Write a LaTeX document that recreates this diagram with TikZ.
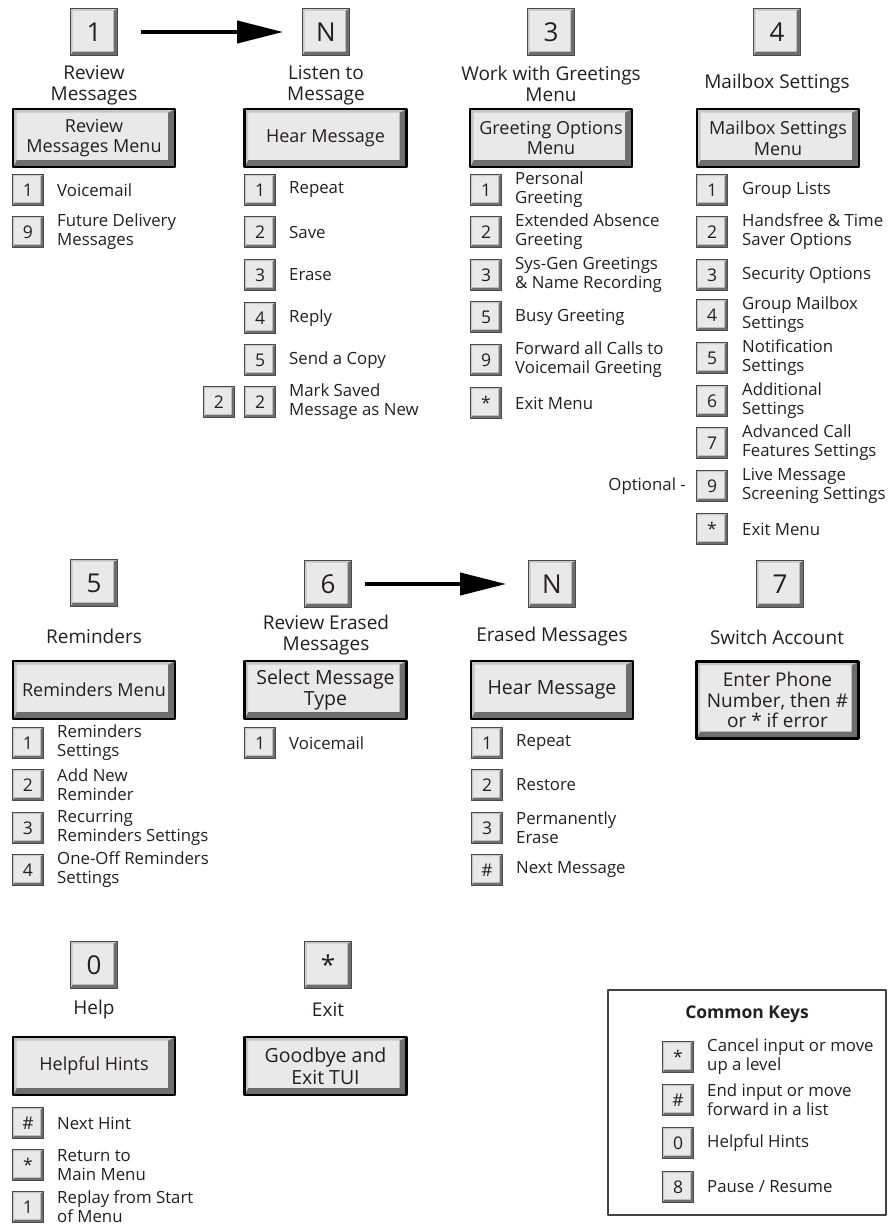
\documentclass[tikz,border=0pt]{standalone}
\usepackage{fontspec}
\setmainfont{Open Sans}
\usetikzlibrary{arrows.meta}
\definecolor{ink}{HTML}{231F20}
\definecolor{keyface}{HTML}{E9E9E9}
\definecolor{bevdark}{HTML}{6E6E6E}
\definecolor{bevlight}{HTML}{C6C6C6}
\definecolor{keyline}{HTML}{4A4A4A}

\tikzset{
  bevel/.style={path picture={
      \fill[bevdark] (path picture bounding box.south west) -- (path picture bounding box.south east)
        -- (path picture bounding box.north east) -- ([shift={(-#1,-0.5*#1)}]path picture bounding box.north east)
        -- ([shift={(-#1,#1)}]path picture bounding box.south east) -- ([shift={(0.5*#1,#1)}]path picture bounding box.south west) -- cycle;
      \fill[bevlight] (path picture bounding box.south west) -- (path picture bounding box.north west)
        -- (path picture bounding box.north east) -- ([shift={(-#1,-0.5*#1)}]path picture bounding box.north east)
        -- ([shift={(0.5*#1,-0.5*#1)}]path picture bounding box.north west) -- ([shift={(0.5*#1,#1)}]path picture bounding box.south west) -- cycle;
    }},
  bigkey/.style={rectangle, draw=keyline, line width=0.8pt, fill=keyface, bevel=4pt,
    minimum width=47pt, minimum height=47pt, inner sep=0pt, font=\fontsize{26}{28}\selectfont},
  smallkey/.style={rectangle, draw=keyline, line width=0.7pt, fill=keyface, bevel=3pt,
    minimum width=31pt, minimum height=31pt, inner sep=0pt, font=\fontsize{17.5}{19}\selectfont},
  menubox/.style={rectangle, draw=black, line width=2.2pt, fill=keyface, bevel=7pt,
    minimum width=162pt, minimum height=58pt, align=center, inner sep=0pt, font=\fontsize{18}{20.5}\selectfont},
  lbl/.style={align=center, inner sep=0pt, font=\fontsize{19}{21}\selectfont},
  item/.style={anchor=west, align=left, inner sep=0pt, font=\fontsize{16.8}{19}\selectfont},
}

\begin{document}
\begin{tikzpicture}[x=1pt,y=-1pt,line cap=round,line join=round,every node/.style={text=ink},
    >={Triangle[length=46pt,width=22pt]}]
  \useasboundingbox (0,0) rectangle (890,1226);

  % top row: main keys
  \node[bigkey] (k1) at (94,32) {1};
  \node[bigkey] (kN) at (326,32) {N};
  \node[bigkey] (k3) at (551,32) {3};
  \node[bigkey] (k4) at (777,32) {4};
  \draw[->,line width=4pt,line cap=butt,shorten <=23pt,shorten >=19pt] (k1) -- (kN);

  \node[lbl] (l1) at (94,85) {Review\\Messages};
  \node[lbl] (lN) at (326,85) {Listen to\\Message};
  \node[lbl] (l3) at (551,84) {Work with Greetings\\Menu};
  \node[lbl] (l4) at (777,84) {Mailbox Settings};

  \node[menubox] (m1) at (94,138) {Review\\Messages Menu};
  \node[menubox] (mN) at (325.5,138) {Hear Message};
  \node[menubox] (m3) at (551,138) {Greeting Options\\Menu};
  \node[menubox] (m4) at (778,138) {Mailbox Settings\\Menu};

  % review messages
  \foreach \k/\t/\y [count=\i] in {1/Voicemail/190, 9/{Future Delivery\\Messages}/232} {
    \node[smallkey] (rk\i) at (28,\y) {\k};
    \node[item] (rt\i) at (57,\y) {\t};
  }

  % hear message
  \foreach \k/\t/\y [count=\i] in {1/Repeat/190, 2/Save/232, 3/Erase/275, 4/Reply/318,
      5/Send a Copy/360, 2/{Mark Saved\\Message as New}/402} {
    \node[smallkey] (hk\i) at (260,\y) {\k};
    \node[item] (ht\i) at (289,\y) {\t};
  }
  \node[smallkey] (hk0) at (219,402) {2};

  % greeting options
  \foreach \k/\t/\y [count=\i] in {1/{Personal\\Greeting}/190, 2/{Extended Absence\\Greeting}/232,
      3/{Sys-Gen Greetings\\\& Name Recording}/275, 5/Busy Greeting/317,
      9/{Forward all Calls to\\Voicemail Greeting}/360, */Exit Menu/403} {
    \node[smallkey] (gk\i) at (486,\y) {\k};
    \node[item] (gt\i) at (515,\y) {\t};
  }

  % mailbox settings
  \foreach \k/\t/\y [count=\i] in {1/Group Lists/190, 2/{Handsfree \& Time\\Saver Options}/232,
      3/Security Options/275, 4/{Group Mailbox\\Settings}/315, 5/{Notification\\Settings}/358,
      6/{Additional\\Settings}/401, 7/{Advanced Call\\Features Settings}/443,
      9/{Live Message\\Screening Settings}/486, */Exit Menu/529} {
    \node[smallkey] (sk\i) at (712,\y) {\k};
    \node[item] (st\i) at (742,\y) {\t};
  }
  \node[item,anchor=east] (opt) at (686,486) {Optional -};

  % second row
  \node[bigkey] (k5) at (94,583) {5};
  \node[bigkey] (k6) at (328,584) {6};
  \node[bigkey] (kE) at (552,584) {N};
  \node[bigkey] (k7) at (780,584) {7};
  \draw[->,line width=4pt,line cap=butt,shorten <=13pt,shorten >=22pt] (k6) -- (kE);

  \node[lbl] (l5) at (94,636) {Reminders};
  \node[lbl] (l6) at (326,635) {Review Erased\\Messages};
  \node[lbl] (lE) at (552,637) {Erased Messages};
  \node[lbl] (l7) at (777,637) {Switch Account};

  \node[menubox] (m5) at (94,690) {Reminders Menu};
  \node[menubox,font=\fontsize{19.5}{21.5}\selectfont] (m6) at (325.5,690) {Select Message\\Type};
  \node[menubox,font=\fontsize{19.5}{21.5}\selectfont] (mE) at (552,690) {Hear Message};
  \node[menubox,minimum height=77pt,font=\fontsize{19}{20.5}\selectfont] (m7) at (777.5,700)
    {Enter Phone\\Number, then \#\\or * if error};

  % reminders
  \foreach \k/\t/\y [count=\i] in {1/{Reminders\\Settings}/743, 2/{Add New\\Reminder}/785,
      3/{Recurring\\Reminders Settings}/828, 4/{One-Off Reminders\\Settings}/870} {
    \node[smallkey] (ek\i) at (28,\y) {\k};
    \node[item] (et\i) at (57,\y) {\t};
  }

  % select message type
  \node[smallkey] (vk1) at (260,743) {1};
  \node[item] (vt1) at (289,743) {Voicemail};

  % erased messages
  \foreach \k/\t/\y [count=\i] in {1/Repeat/743, 2/Restore/785, 3/{Permanently\\Erase}/828,
      \#/Next Message/870} {
    \node[smallkey] (xk\i) at (487,\y) {\k};
    \node[item] (xt\i) at (516,\y) {\t};
  }

  % third row
  \node[bigkey] (k0) at (94,965) {0};
  \node[bigkey] (kX) at (328,965) {*};
  \node[lbl] (l0) at (94,1010) {Help};
  \node[lbl] (lX) at (328,1010) {Exit};
  \node[menubox] (m0) at (94,1066) {Helpful Hints};
  \node[menubox,font=\fontsize{19.5}{21.5}\selectfont] (mX) at (325.5,1066) {Goodbye and\\Exit TUI};

  \foreach \k/\t/\y [count=\i] in {\#/Next Hint/1123, */{Return to\\Main Menu}/1165,
      1/{Replay from Start\\of Menu}/1207} {
    \node[smallkey] (hhk\i) at (28,\y) {\k};
    \node[item] (hht\i) at (57,\y) {\t};
  }

  % common keys
  \node[draw=ink!85, line width=1.3pt, minimum width=278pt, minimum height=225pt, inner sep=0pt] (ckbox) at (747,1102.5) {};
  \node[font=\fontsize{17.5}{20}\selectfont\bfseries] (cktitle) at (747,1014) {Common Keys};
  \node[smallkey] (ck1) at (678,1057) {*};
  \node[item] (ct1) at (707,1057) {Cancel input or move\\up a level};
  \node[smallkey] (ck2) at (678,1100) {\#};
  \node[item] (ct2) at (707,1100) {End input or move\\forward in a list};
  \node[smallkey] (ck3) at (678,1143) {0};
  \node[item] (ct3) at (707,1143) {Helpful Hints};
  \node[smallkey] (ck4) at (678,1187) {8};
  \node[item] (ct4) at (707,1187) {Pause / Resume};
\end{tikzpicture}
\end{document}
